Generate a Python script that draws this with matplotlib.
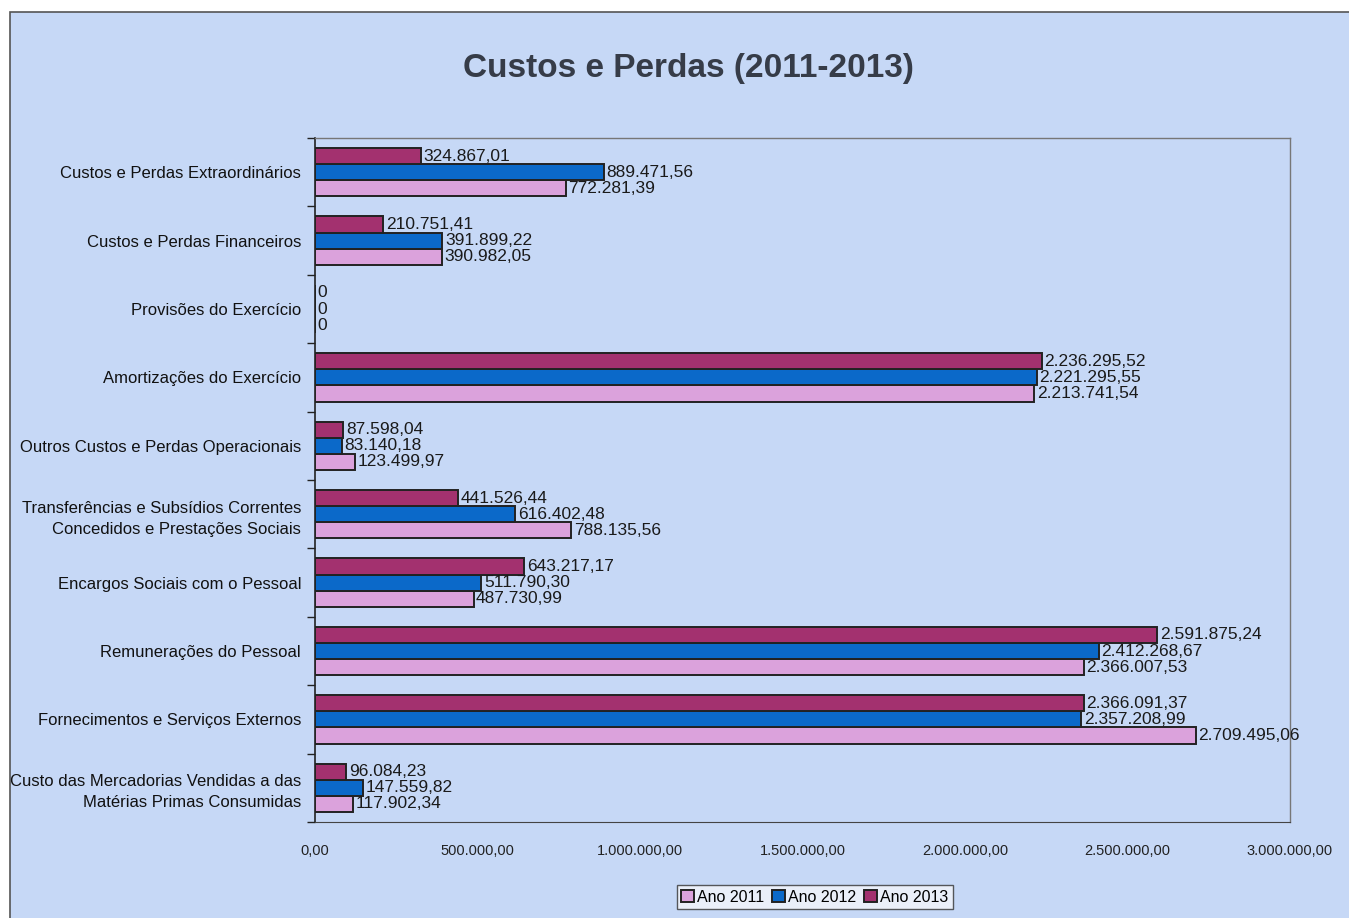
import matplotlib.pyplot as plt
import matplotlib.patches as mpatches
from matplotlib.ticker import FixedLocator, NullFormatter
import numpy as np

# categories listed top -> bottom as in the chart
categories = [
    'Custos e Perdas Extraordinários',
    'Custos e Perdas Financeiros',
    'Provisões do Exercício',
    'Amortizações do Exercício',
    'Outros Custos e Perdas Operacionais',
    'Transferências e Subsídios Correntes\nConcedidos e Prestações Sociais',
    'Encargos Sociais com o Pessoal',
    'Remunerações do Pessoal',
    'Fornecimentos e Serviços Externos',
    'Custo das Mercadorias Vendidas a das\nMatérias Primas Consumidas',
]
ano_2011 = [772281.39, 390982.05, 0, 2213741.54, 123499.97, 788135.56,
            487730.99, 2366007.53, 2709495.06, 117902.34]
ano_2012 = [889471.56, 391899.22, 0, 2221295.55, 83140.18, 616402.48,
            511790.30, 2412268.67, 2357208.99, 147559.82]
ano_2013 = [324867.01, 210751.41, 0, 2236295.52, 87598.04, 441526.44,
            643217.17, 2591875.24, 2366091.37, 96084.23]
xticks = [0, 500000, 1000000, 1500000, 2000000, 2500000, 3000000]

BG = '#c6d8f6'
COLORS = {'2011': '#dba2dc', '2012': '#0b69c9', '2013': '#a3316f'}
FONT = ['Liberation Sans', 'DejaVu Sans']


def fmt_pt(v):
    if v == 0:
        return '0'
    s = f'{v:,.2f}'
    return s.replace(',', 'X').replace('.', ',').replace('X', '.')


fig = plt.figure(figsize=(13.49, 9.18), dpi=100, facecolor='white')
# chart area background with thin border
fig.patches.append(mpatches.Rectangle((10 / 1349, -0.01), 1.0, 1.01 - 12 / 918,
                                      transform=fig.transFigure, facecolor=BG,
                                      edgecolor='#555555', lw=1.2, zorder=-5))

ax = fig.add_axes([315 / 1349, 1 - 822 / 918, 975 / 1349, 684 / 918])
ax.set_facecolor(BG)

n = len(categories)
y = np.arange(n)[::-1].astype(float)  # first category at top
h = 0.235

bars = [
    (ano_2011, y - h, COLORS['2011'], 'Ano 2011'),
    (ano_2012, y,     COLORS['2012'], 'Ano 2012'),
    (ano_2013, y + h, COLORS['2013'], 'Ano 2013'),
]
handles = []
for vals, ypos, col, lab in bars:
    b = ax.barh(ypos, vals, height=h, color=col, edgecolor='#222222',
                lw=1.4, label=lab, zorder=3)
    handles.append(b)
    for v, yy in zip(vals, ypos):
        ax.text(v + 8000, yy, fmt_pt(v), va='center', ha='left',
                fontsize=12.5, family=FONT, color='#1a1a1a', zorder=4)

ax.set_xlim(0, 3000000)
ax.set_ylim(-0.5, n - 0.5)
ax.set_xticks(xticks)
ax.set_xticklabels([fmt_pt(t) if t else '0,00' for t in xticks],
                   fontsize=10.5, family=FONT, color='#222222')
ax.tick_params(axis='x', length=0, pad=16)

ax.set_yticks(y)
ax.set_yticklabels(categories, fontsize=12, family=FONT, color='#111111',
                   linespacing=1.5)
ax.tick_params(axis='y', which='major', length=0, pad=10)
ax.yaxis.set_minor_locator(FixedLocator(np.arange(-0.5, n, 1.0)))
ax.yaxis.set_minor_formatter(NullFormatter())
ax.tick_params(axis='y', which='minor', length=6, width=1, color='#222222')

ax.spines['left'].set_color('#222222')
ax.spines['left'].set_linewidth(1.2)
ax.spines['bottom'].set_color('#444444')
ax.spines['bottom'].set_linestyle((0, (2, 1)))
for s in ('top', 'right'):
    ax.spines[s].set_color('#777777')
    ax.spines[s].set_linewidth(1.0)

fig.text(0.51, 1 - 68 / 918, 'Custos e Perdas (2011-2013)', ha='center',
         va='center', fontsize=24, fontweight='bold', family=FONT,
         color='#363c48')

leg = fig.legend(handles=handles, loc='center', bbox_to_anchor=(815 / 1349, 1 - 897 / 918),
                 ncol=3, frameon=True, handlelength=0.8,
                 handleheight=0.8, handletextpad=0.2, columnspacing=0.5,
                 borderpad=0.3, fancybox=False, prop={'family': FONT, 'size': 11.5})
leg.get_frame().set_edgecolor('#333333')
leg.get_frame().set_facecolor('#f4f6fa')
leg.get_frame().set_linewidth(1.0)

fig.savefig('out.png', dpi=100, facecolor=fig.get_facecolor())
